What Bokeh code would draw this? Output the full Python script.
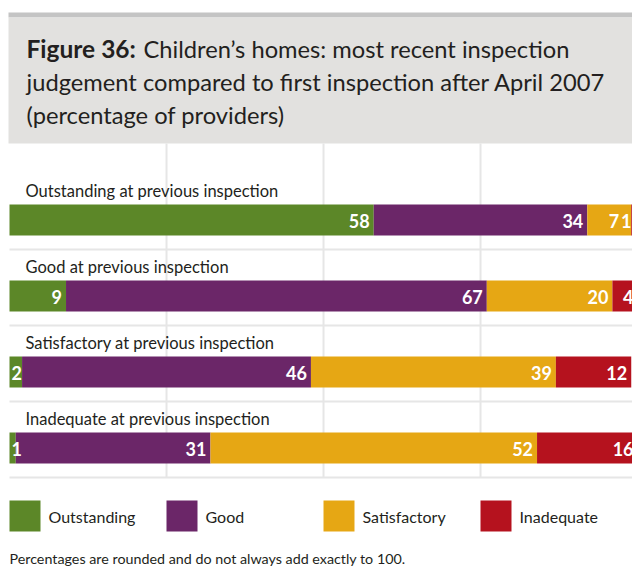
from bokeh.plotting import figure
from bokeh.models import Range1d
from bokeh.core.properties import value
from bokeh.embed import file_html
from bokeh.resources import INLINE

# ---- data ----
categories = ["Outstanding at previous inspection",
              "Good at previous inspection",
              "Satisfactory at previous inspection",
              "Inadequate at previous inspection"]
judgements = ["Outstanding", "Good", "Satisfactory", "Inadequate"]
outstanding = [58, 9, 2, 1]
good = [34, 67, 46, 31]
satisfactory = [7, 20, 39, 52]
inadequate = [1, 4, 12, 16]
grid_ticks = [25, 50, 75]
title_bold = "Figure 36:"
title_lines = ["Children’s homes: most recent inspection",
               "judgement compared to first inspection after April 2007",
               "(percentage of providers)"]
note = "Percentages are rounded and do not always add exactly to 100."

# ---- styles ----
colors = ["#5c8728", "#6b2668", "#e6a714", "#b5121e"]
FONT = value("Lato")
TEXT_COL = "#231f20"
W, H = 632, 572
ROW0, PITCH, BAR_H = 219.5, 76, 31

p = figure(width=W, height=H, x_range=Range1d(-1.433, 99.2), y_range=Range1d(H, 0),
           output_backend="svg", toolbar_location=None, min_border=0,
           x_axis_location=None, y_axis_location=None, outline_line_color=None)
p.grid.visible = False
p.extra_x_ranges = {"px": Range1d(0, W)}

# title box
p.quad(left=[8], right=[W], top=[12], bottom=[17], x_range_name="px",
       fill_color="#c4c4c4", line_color=None)
p.quad(left=[8], right=[W], top=[17], bottom=[143], x_range_name="px",
       fill_color="#e2e1df", line_color=None)
p.text(x=[26], y=[48], text=[title_bold], x_range_name="px", text_font=FONT,
       text_font_size="24.5px", text_font_style="bold", text_color=TEXT_COL,
       text_baseline="middle")
p.text(x=[143, 26, 26], y=[48, 81, 114], text=title_lines, x_range_name="px",
       text_font=FONT, text_font_size="23.7px", text_color=TEXT_COL,
       text_baseline="middle")

rows = [ROW0 + PITCH * i for i in range(len(categories))]
sep_y = [r + 29.5 for r in rows]

# vertical grid lines
p.segment(x0=grid_ticks, x1=grid_ticks, y0=[143] * 3, y1=[sep_y[-1]] * 3,
          line_color="#e6e6e6", line_width=2)
# row separators
p.segment(x0=[9] * 4, x1=[W] * 4, y0=sep_y, y1=sep_y, x_range_name="px",
          line_color="#e6e6e6", line_width=2)

# stacked bars
series = [outstanding, good, satisfactory, inadequate]
lab_x, lab_y, lab_t, lab_off, lab_align = [], [], [], [], []
left = [0] * len(categories)
for k, (vals, col) in enumerate(zip(series, colors)):
    right = [l + v for l, v in zip(left, vals)]
    p.hbar(y=rows, left=left, right=right, height=BAR_H, fill_color=col, line_color=None)
    for i, v in enumerate(vals):
        lab_y.append(rows[i])
        lab_t.append(str(v))
        if k == 0 and v < 3:
            lab_x.append(left[i]); lab_off.append(2); lab_align.append("left")
            continue
        lab_x.append(right[i]); lab_align.append("right")
        nxt = series[k + 1][i] if k + 1 < len(series) else None
        if nxt is not None and nxt < 3:
            lab_off.append(-12)
        elif nxt is None and v < 3:
            lab_off.append(-6)
        else:
            lab_off.append(-4)
    left = right

p.text(x=lab_x, y=lab_y, text=lab_t, x_offset=lab_off, y_offset=1,
       text_align=lab_align, text_baseline="middle", text_font=FONT,
       text_font_size="18px", text_font_style="bold", text_color="white")

# category labels
p.text(x=[25] * 4, y=[r - 29.5 for r in rows], text=categories, x_range_name="px",
       text_font=FONT, text_font_size="16.5px", text_color=TEXT_COL,
       text_baseline="middle")

# legend
leg_x = [9 + 157 * i for i in range(len(judgements))]
p.quad(left=leg_x, right=[x + 31 for x in leg_x], top=[500] * 4, bottom=[531] * 4,
       x_range_name="px", fill_color=colors, line_color=None)
p.text(x=[x + 39 for x in leg_x], y=[516] * 4, text=judgements, x_range_name="px",
       text_font=FONT, text_font_size="16px", text_color=TEXT_COL,
       text_baseline="middle")

# footnote
p.text(x=[9], y=[558], text=[note], x_range_name="px", text_font=FONT,
       text_font_size="14.3px", text_color=TEXT_COL, text_baseline="middle")

open("out.html", "w").write(file_html(p, INLINE))
